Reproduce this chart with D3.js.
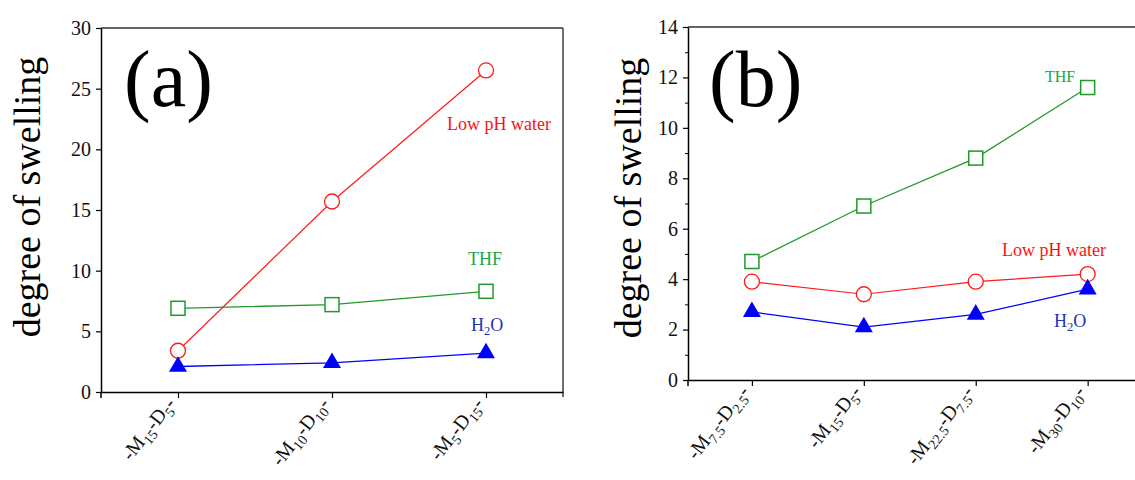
<!DOCTYPE html>
<html>
<head>
<meta charset="utf-8">
<script src="https://cdn.jsdelivr.net/npm/d3@7"></script>
<style>
  body { margin: 0; background: #fff; }
  svg { display: block; }
  svg text, svg tspan { font-family: "Liberation Serif" !important; }
</style>
</head>
<body>
<svg id="chart" width="1135" height="480"></svg>
<script>
// Panel (a): composition series -M(x)-D(y)-
const catA_M = ["15", "10", "5"];
const catA_D = ["5", "10", "15"];
const lowPhA = [3.4, 15.7, 26.5];
const thfA   = [6.9, 7.2, 8.3];
const h2oA   = [2.1, 2.4, 3.2];
const yTicksA = [0, 5, 10, 15, 20, 25, 30];

// Panel (b)
const catB_M = ["7.5", "15", "22.5", "30"];
const catB_D = ["2.5", "5", "7.5", "10"];
const lowPhB = [3.9, 3.4, 3.9, 4.2];
const thfB   = [4.7, 6.9, 8.8, 11.6];
const h2oB   = [2.7, 2.1, 2.6, 3.6];
const yTicksB = [0, 2, 4, 6, 8, 10, 12, 14];
const yMinorB = [1, 3, 5, 7, 9, 11, 13];

const RED = "#ff1a1a", GREEN = "#1f9a2a", BLUE = "#0000ff";
const svg = d3.select("#chart");
svg.append("rect").attr("width", 1135).attr("height", 480).attr("fill", "#fff");

function useSerif(sel) { sel.style("font-family", '"Liberation Serif"'); }

function drawPanel(p) {
  const g = svg.append("g");
  const x = d3.scaleLinear().domain(p.xDomain).range([p.left, p.right]);
  const y = d3.scaleLinear().domain([0, p.yMax]).range([p.bottom, p.top]);

  // frame: top and right edges
  g.append("line").attr("x1", p.left).attr("x2", p.right)
    .attr("y1", p.top).attr("y2", p.top)
    .attr("stroke", "#333").attr("stroke-width", 1.4);
  g.append("line").attr("x1", p.right).attr("x2", p.right)
    .attr("y1", p.top).attr("y2", p.bottom + 5)
    .attr("stroke", "#333").attr("stroke-width", 1.4);

  // y axis
  const ya = g.append("g").attr("transform", `translate(${p.left},0)`)
    .call(d3.axisLeft(y).tickValues(p.yTicks).tickSize(5).tickPadding(5)
      .tickFormat(d3.format("d")).tickSizeOuter(0));
  ya.attr("font-family", null).attr("font-size", null);
  if (p.yMinor) {
    g.append("g").attr("transform", `translate(${p.left},0)`)
      .call(d3.axisLeft(y).tickValues(p.yMinor).tickSize(3).tickFormat("").tickSizeOuter(0))
      .call(s => s.select(".domain").remove());
  }
  // x axis
  const idx = d3.range(p.catM.length);
  const xa = g.append("g").attr("transform", `translate(0,${p.bottom})`)
    .call(d3.axisBottom(x).tickValues(idx).tickSize(6).tickFormat("").tickSizeOuter(0));
  [ya, xa].forEach(a => {
    a.select(".domain").attr("stroke", "#000").attr("stroke-width", 1.5);
    a.selectAll(".tick line").attr("stroke", "#000").attr("stroke-width", 1.2);
  });
  g.selectAll(".tick line").attr("stroke", "#000");
  ya.selectAll("text").attr("font-size", 20).attr("fill", "#111").call(useSerif);
  // axis corner extension
  g.append("line").attr("x1", p.left).attr("x2", p.left)
    .attr("y1", p.bottom).attr("y2", p.bottom + 6)
    .attr("stroke", "#000").attr("stroke-width", 1.5);

  // rotated category labels with subscripts
  idx.forEach(i => {
    const t = g.append("text")
      .attr("transform", `translate(${x(i) - 2},${p.bottom + 12}) rotate(${p.rot})`)
      .attr("text-anchor", "end").attr("font-size", 20).attr("fill", "#111").call(useSerif);
    t.append("tspan").text("-M");
    t.append("tspan").attr("dy", 5).attr("font-size", 14).text(p.catM[i]);
    t.append("tspan").attr("dy", -5).text("-D");
    t.append("tspan").attr("dy", 5).attr("font-size", 14).text(p.catD[i]);
    t.append("tspan").attr("dy", -5).text("-");
  });

  // y axis title
  g.append("text")
    .attr("transform", `translate(${p.titleX},${p.titleY}) rotate(-90)`)
    .attr("text-anchor", "middle").attr("font-size", 38).attr("fill", "#000")
    .call(useSerif).text("degree of swelling");

  // panel letter
  g.append("text").attr("x", p.letterX).attr("y", 106)
    .attr("font-size", 80).attr("fill", "#000").call(useSerif).text(p.letter);

  const line = d3.line().x((d, i) => x(i)).y(d => y(d));

  // THF: hollow squares
  g.append("path").datum(p.thf).attr("d", line)
    .attr("fill", "none").attr("stroke", GREEN).attr("stroke-width", 1.3);
  g.selectAll(null).data(p.thf).join("rect")
    .attr("x", (d, i) => x(i) - 7).attr("y", d => y(d) - 7)
    .attr("width", 14).attr("height", 14)
    .attr("fill", "#fff").attr("stroke", GREEN).attr("stroke-width", 1.5);

  // Low pH water: hollow circles
  g.append("path").datum(p.lowPh).attr("d", line)
    .attr("fill", "none").attr("stroke", RED).attr("stroke-width", 1.2);
  g.selectAll(null).data(p.lowPh).join("circle")
    .attr("cx", (d, i) => x(i)).attr("cy", d => y(d)).attr("r", 7.5)
    .attr("fill", "#fff").attr("stroke", RED).attr("stroke-width", 1.3);

  // H2O: filled triangles
  g.append("path").datum(p.h2o).attr("d", line)
    .attr("fill", "none").attr("stroke", BLUE).attr("stroke-width", 1.3);
  const tri = d3.symbol().type(d3.symbolTriangle).size(140);
  g.selectAll(null).data(p.h2o).join("path")
    .attr("transform", (d, i) => `translate(${x(i)},${y(d)})`)
    .attr("d", tri).attr("fill", BLUE);

  // series labels
  p.labels.forEach(l => {
    const t = g.append("text").attr("x", l.x).attr("y", l.y)
      .attr("font-size", l.size).attr("fill", l.color).call(useSerif);
    if (l.sub) {
      t.append("tspan").text("H");
      t.append("tspan").attr("dy", 4).attr("font-size", l.size * 0.7).text("2");
      t.append("tspan").attr("dy", -4).text("O");
    } else {
      t.text(l.text);
    }
  });
}

drawPanel({
  left: 101, right: 563, top: 28, bottom: 392,
  xDomain: [-0.5, 2.5], yMax: 30, yTicks: yTicksA,
  catM: catA_M, catD: catA_D, rot: -52,
  lowPh: lowPhA, thf: thfA, h2o: h2oA,
  titleX: 40, titleY: 197, letter: "(a)", letterX: 124,
  labels: [
    { text: "Low pH water", x: 447, y: 130, size: 18, color: "#ff1010" },
    { text: "THF", x: 468, y: 265, size: 18, color: "#1aa64a" },
    { sub: true, x: 471, y: 331, size: 18, color: "#2036b0" }
  ]
});

drawPanel({
  left: 688, right: 1166, top: 27, bottom: 380,
  xDomain: [-0.571, 3.7], yMax: 14, yTicks: yTicksB, yMinor: yMinorB,
  catM: catB_M, catD: catB_D, rot: -52,
  lowPh: lowPhB, thf: thfB, h2o: h2oB,
  titleX: 641, titleY: 198, letter: "(b)", letterX: 709,
  labels: [
    { text: "THF", x: 1045, y: 82, size: 16, color: "#1aa64a" },
    { text: "Low pH water", x: 1002, y: 256, size: 18, color: "#ff1010" },
    { sub: true, x: 1054, y: 327, size: 18, color: "#2036b0" }
  ]
});
</script>
</body>
</html>
